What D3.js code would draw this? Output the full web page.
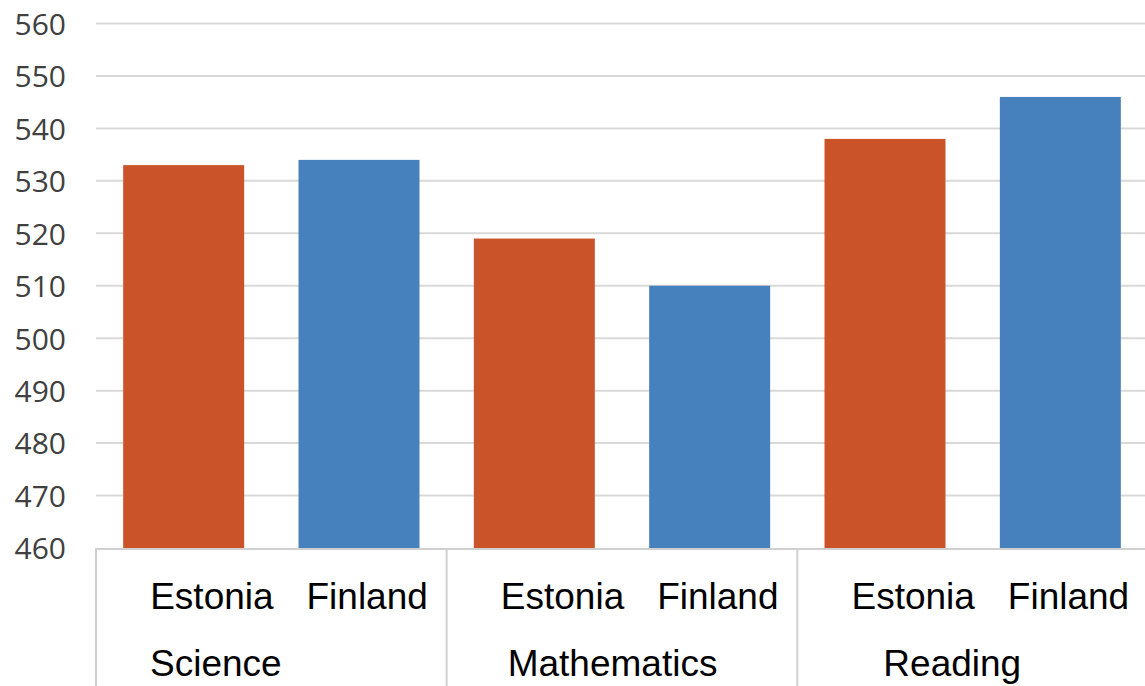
<!DOCTYPE html>
<html>
<head>
<meta charset="utf-8">
<script src="https://cdn.jsdelivr.net/npm/d3@7"></script>
<style>
html,body{margin:0;padding:0;background:#fff;overflow:hidden;}
svg{display:block;}
</style>
</head>
<body>
<svg id="chart" width="1145" height="686"></svg>
<script>
// ---- data ----
const categories = ["Science", "Mathematics", "Reading"];
const series = ["Estonia", "Finland"];
const estonia = [533, 519, 538];
const finland = [534, 510, 546];
const yTicks = [460, 470, 480, 490, 500, 510, 520, 530, 540, 550, 560];

// ---- layout ----
const W = 1145, H = 686;
const plot = {left: 96, right: 1148, top: 23.5, bottom: 548};
const colors = {Estonia: "#CA5329", Finland: "#4681BD"};
const seriesLabelDx = {Estonia: 27, Finland: 8};
const catLabelDx = [54, 61, 86];

const values = {Estonia: estonia, Finland: finland};
const rows = categories.map((c, i) => ({cat: c, i, vals: series.map(s => ({s, v: values[s][i]}))}));

const svg = d3.select("#chart");

const y = d3.scaleLinear().domain([460, 560]).range([plot.bottom, plot.top]);
const x0 = d3.scaleBand().domain(categories).range([plot.left, plot.right]).padding(0);
const x1 = d3.scaleBand().domain(series).range([0, x0.bandwidth()]).paddingInner(0.31).paddingOuter(0.155);

// gridlines
svg.append("g").selectAll("line").data(yTicks.filter(t => t > 460)).join("line")
  .attr("x1", plot.left).attr("x2", W)
  .attr("y1", d => y(d)).attr("y2", d => y(d))
  .attr("stroke", "#d9d9d9").attr("stroke-width", 2);

// y axis labels
const yAxis = d3.axisLeft(y).tickValues(yTicks).tickSize(0).tickPadding(0).tickFormat(d3.format("d"));
const gy = svg.append("g").attr("transform", "translate(66,0)").call(yAxis);
gy.select(".domain").remove();
gy.selectAll("text")
  .attr("font-family", "'Open Sans', sans-serif")
  .attr("font-size", 30)
  .attr("fill", "#404040")
  .attr("dy", "0.36em");

// bars
const g = svg.append("g");
g.selectAll("g").data(rows).join("g")
  .attr("transform", d => `translate(${x0(d.cat)},0)`)
  .selectAll("rect").data(d => d.vals).join("rect")
  .attr("x", d => x1(d.s))
  .attr("width", x1.bandwidth())
  .attr("y", d => y(d.v))
  .attr("height", d => y(460) - y(d.v))
  .attr("fill", d => colors[d.s]);

// category axis line and separators
svg.append("line").attr("x1", plot.left).attr("x2", W)
  .attr("y1", plot.bottom + 1).attr("y2", plot.bottom + 1)
  .attr("stroke", "#d0d0d0").attr("stroke-width", 2);
const seps = categories.map(c => x0(c)).concat([x0(categories[categories.length - 1]) + x0.bandwidth()]);
svg.append("g").selectAll("line").data(seps).join("line")
  .attr("x1", d => d).attr("x2", d => d)
  .attr("y1", plot.bottom).attr("y2", H)
  .attr("stroke", "#d0d0d0").attr("stroke-width", 2);

// series labels
const lab = svg.append("g").attr("font-family", "'Liberation Sans', Arial, sans-serif")
  .attr("font-size", 37).attr("fill", "#000");
rows.forEach(r => {
  r.vals.forEach(v => {
    lab.append("text")
      .attr("x", x0(r.cat) + x1(v.s) + seriesLabelDx[v.s])
      .attr("y", 609)
      .text(v.s);
  });
  lab.append("text")
    .attr("x", x0(r.cat) + catLabelDx[r.i])
    .attr("y", 676)
    .text(r.cat);
});
</script>
</body>
</html>
